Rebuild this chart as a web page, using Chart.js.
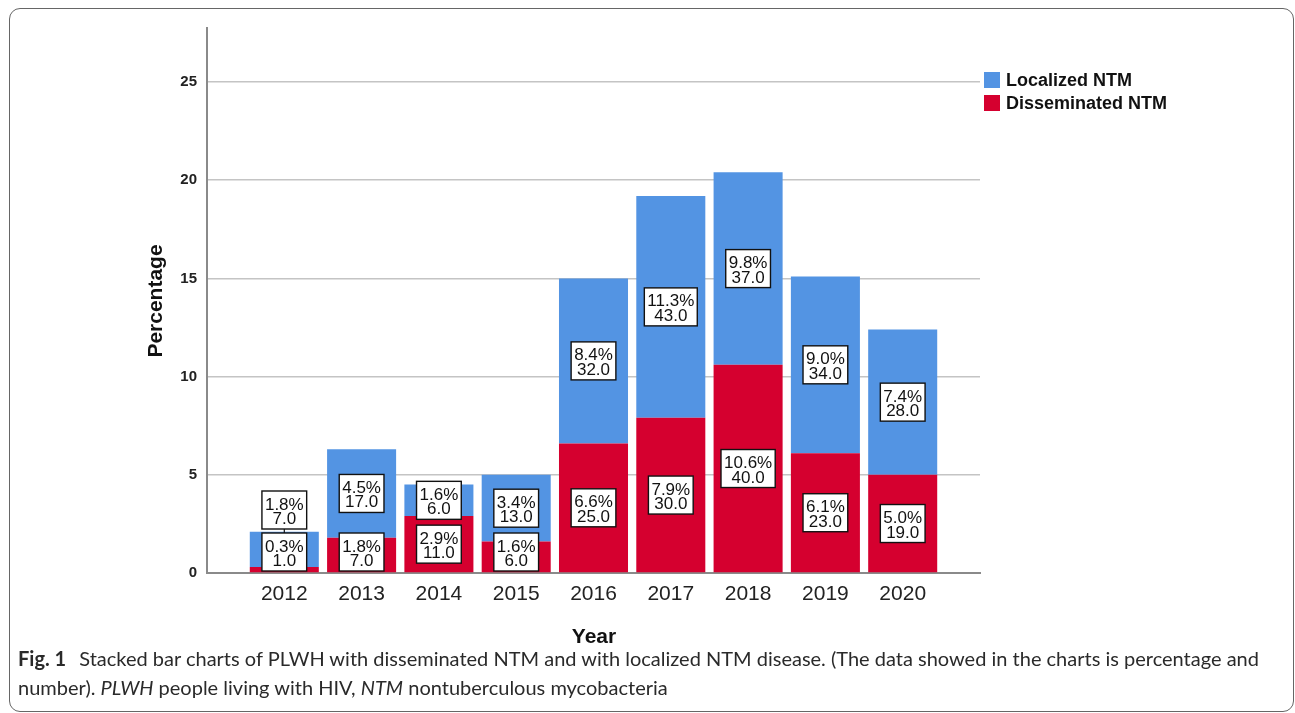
<!DOCTYPE html>
<html>
<head>
<meta charset="utf-8">
<script src="https://cdn.jsdelivr.net/npm/chart.js@4.4.1/dist/chart.umd.min.js"></script>
<style>
  html, body { margin: 0; padding: 0; background: #fff; }
  #wrap { position: relative; width: 1295px; height: 713px; overflow: hidden; }
  #frame {
    position: absolute; left: 9px; top: 8px; width: 1285px; height: 704px;
    border: 1.5px solid #666; border-radius: 11px; box-sizing: border-box;
  }
  #chart { position: absolute; left: 0; top: 0; }
  #caption {
    position: absolute; left: 18px; top: 644px; width: 1272px;
    font-family: Lato, "Noto Sans", sans-serif; font-size: 20px; line-height: 29px;
    color: #2a2a2a; white-space: nowrap;
  }
  #caption b { font-weight: bold; margin-right: 8px; }
</style>
</head>
<body>
<div id="wrap">
  <div id="frame"></div>
  <canvas id="chart" width="1295" height="713"></canvas>
  <div id="caption"><b>Fig. 1</b> Stacked bar charts of PLWH with disseminated NTM and with localized NTM disease. (The data showed in the charts is percentage and<br>number). <i>PLWH</i> people living with HIV, <i>NTM</i> nontuberculous mycobacteria</div>
</div>
<script>
const years = [2012, 2013, 2014, 2015, 2016, 2017, 2018, 2019, 2020];
const disseminatedPct = [0.3, 1.8, 2.9, 1.6, 6.6, 7.9, 10.6, 6.1, 5.0];
const localizedPct = [1.8, 4.5, 1.6, 3.4, 8.4, 11.3, 9.8, 9.0, 7.4];
const disseminatedN = [1, 7, 11, 6, 25, 30, 40, 23, 19];
const localizedN = [7, 17, 6, 13, 32, 43, 37, 34, 28];
const seriesNames = ["Disseminated NTM", "Localized NTM"];

const BLUE = "#5394e3";
const RED = "#d5002f";
const BOX_H = 38;

function boxLabel(ctx, x, cy, pct, n) {
  const l1 = pct.toFixed(1) + "%";
  const l2 = n.toFixed(1);
  ctx.font = "17px 'Liberation Sans', Arial, sans-serif";
  const w = Math.max(ctx.measureText(l1).width, ctx.measureText(l2).width) + 6;
  const top = cy - BOX_H / 2;
  ctx.fillStyle = "#fff";
  ctx.fillRect(x - w / 2, top, w, BOX_H);
  ctx.strokeStyle = "#111";
  ctx.lineWidth = 1.4;
  ctx.strokeRect(x - w / 2, top, w, BOX_H);
  ctx.fillStyle = "#111";
  ctx.textAlign = "center";
  ctx.textBaseline = "alphabetic";
  ctx.fillText(l1, x, cy - 0.5);
  ctx.fillText(l2, x, cy + 14);
}

const labelPlugin = {
  id: "boxLabels",
  afterDatasetsDraw(chart) {
    const ctx = chart.ctx;
    const dMeta = chart.getDatasetMeta(0);
    const lMeta = chart.getDatasetMeta(1);
    const zero = chart.scales.y.getPixelForValue(0);
    ctx.save();
    years.forEach((yr, i) => {
      const d = dMeta.data[i];
      const l = lMeta.data[i];
      let dy = (d.y + d.base) / 2;
      dy = Math.min(dy, zero - BOX_H / 2 - 2);
      let ly = (l.y + l.base) / 2;
      let moved = false;
      if (ly + BOX_H / 2 > dy - BOX_H / 2 - 4) {
        ly = dy - BOX_H - 4;
        moved = true;
      }
      if (moved) {
        ctx.strokeStyle = "#111";
        ctx.lineWidth = 1.2;
        ctx.beginPath();
        ctx.moveTo(l.x, ly + BOX_H / 2);
        ctx.lineTo(l.x, dy - BOX_H / 2);
        ctx.stroke();
      }
      boxLabel(ctx, d.x, dy, disseminatedPct[i], disseminatedN[i]);
      boxLabel(ctx, l.x, ly, localizedPct[i], localizedN[i]);
    });
    ctx.restore();
  },
  afterDraw(chart) {
    const ctx = chart.ctx;
    ctx.save();
    // axis titles
    ctx.fillStyle = "#111";
    ctx.font = "bold 21px 'Liberation Sans', Arial, sans-serif";
    ctx.textAlign = "center";
    ctx.textBaseline = "middle";
    ctx.fillText("Year", 594, 637);
    ctx.translate(156, 301);
    ctx.rotate(-Math.PI / 2);
    ctx.fillText("Percentage", 0, 0);
    ctx.restore();

    // legend (localized on top)
    ctx.save();
    ctx.font = "bold 18px 'Liberation Sans', Arial, sans-serif";
    ctx.textAlign = "left";
    ctx.textBaseline = "middle";
    const items = [[seriesNames[1], BLUE], [seriesNames[0], RED]];
    items.forEach(([name, col], k) => {
      const y = 80 + k * 23;
      ctx.fillStyle = col;
      ctx.fillRect(984, y - 8, 16, 16);
      ctx.fillStyle = "#111";
      ctx.fillText(name, 1006, y + 1);
    });
    ctx.restore();
  }
};

new Chart(document.getElementById("chart"), {
  type: "bar",
  data: {
    datasets: [
      {
        label: seriesNames[0],
        data: years.map((yr, i) => ({ x: yr, y: disseminatedPct[i] })),
        backgroundColor: RED,
        barPercentage: 0.893,
        categoryPercentage: 1
      },
      {
        label: seriesNames[1],
        data: years.map((yr, i) => ({ x: yr, y: localizedPct[i] })),
        backgroundColor: BLUE,
        barPercentage: 0.893,
        categoryPercentage: 1
      }
    ]
  },
  options: {
    responsive: false,
    animation: false,
    devicePixelRatio: 1,
    layout: { padding: { top: 28, right: 315, left: 0, bottom: 0 } },
    plugins: { legend: { display: false }, tooltip: { enabled: false } },
    scales: {
      x: {
        type: "linear",
        stacked: true,
        offset: false,
        min: 2011,
        max: 2021,
        afterFit(scale) { scale.height = 140; },
        grid: { display: false, drawTicks: false, offset: false },
        border: { display: true, color: "#8a8a8a", width: 2 },
        ticks: {
          stepSize: 1,
          padding: 9,
          color: "#222",
          font: { family: "'Liberation Sans', Arial, sans-serif", size: 21 },
          callback: v => (v < years[0] || v > years[years.length - 1]) ? "" : String(v)
        }
      },
      y: {
        stacked: true,
        min: 0,
        max: 27.75,
        afterFit(scale) { scale.width = 207; },
        grid: { color: "#c4c4c4", lineWidth: 1.5, drawTicks: false },
        border: { display: true, color: "#8a8a8a", width: 2 },
        ticks: {
          stepSize: 5,
          includeBounds: false,
          padding: 10,
          color: "#222",
          font: { family: "'Liberation Sans', Arial, sans-serif", size: 15, weight: "bold" }
        }
      }
    }
  },
  plugins: [labelPlugin]
});
</script>
</body>
</html>
